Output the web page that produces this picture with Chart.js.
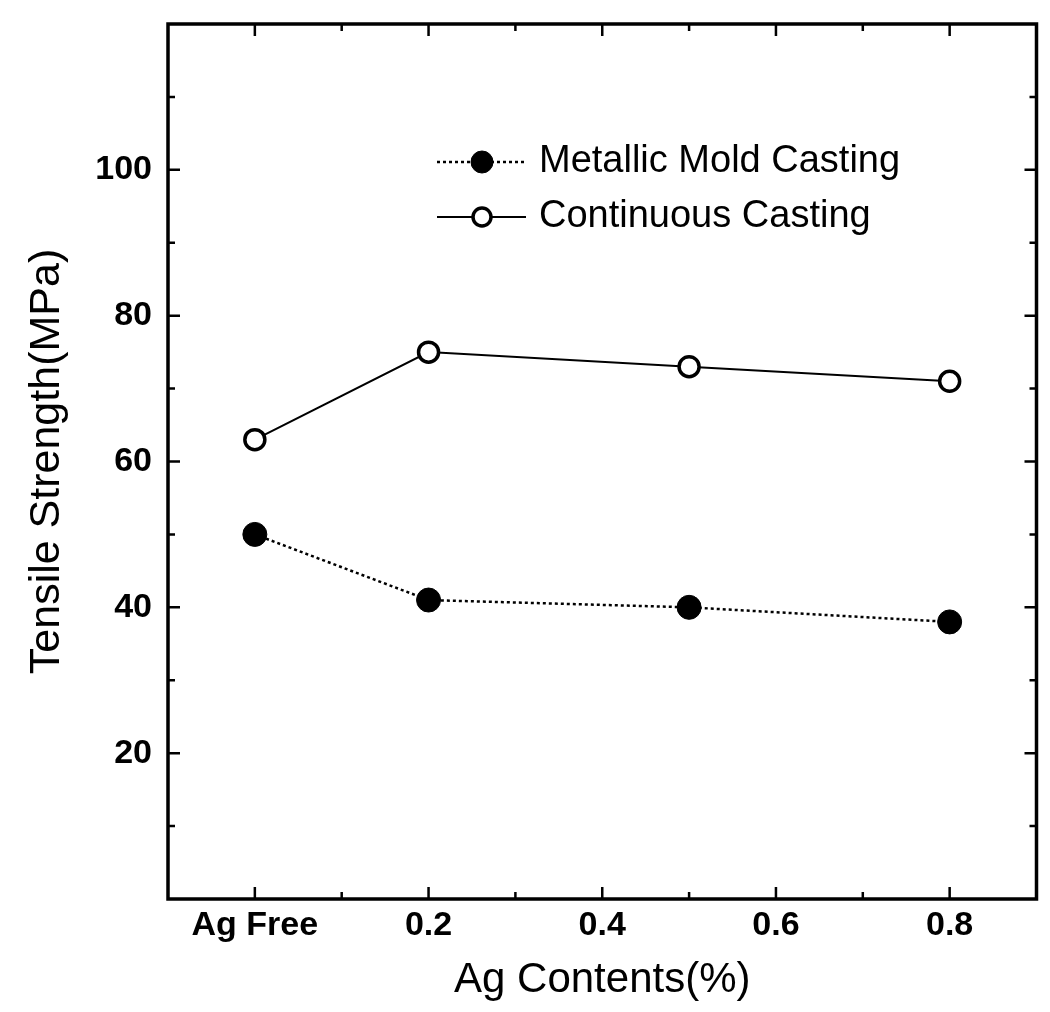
<!DOCTYPE html>
<html>
<head>
<meta charset="utf-8">
<script src="https://cdn.jsdelivr.net/npm/chart.js@4.4.1/dist/chart.umd.min.js"></script>
<style>
  html, body { margin: 0; padding: 0; background: #fff; }
  canvas { display: block; }
</style>
</head>
<body>
<canvas id="myChart" width="1050" height="1012"></canvas>
<script>
const agContents = [0, 0.2, 0.5, 0.8];
const metallicMold = [50, 41, 40, 38];
const continuous = [63, 75, 73, 71];

const xTicks = [0, 0.2, 0.4, 0.6, 0.8];
const xTickLabels = ['Ag Free', '0.2', '0.4', '0.6', '0.8'];
const xMinorTicks = [0.1, 0.3, 0.5, 0.7];
const yTicks = [20, 40, 60, 80, 100];
const yMinorTicks = [10, 30, 50, 70, 90, 110];

const FONT = "'Liberation Sans', Arial, sans-serif";

const toPoints = ys => agContents.map((x, i) => ({ x: x, y: ys[i] }));

// box around the plot with inward ticks on all four sides
const frame = {
  id: 'frame',
  afterDatasetsDraw(chart) {
    const { ctx, chartArea: a, scales: { x, y } } = chart;
    ctx.save();
    ctx.strokeStyle = '#000';
    ctx.lineWidth = 2.5;
    const xTick = (v, len) => {
      const px = x.getPixelForValue(v);
      ctx.beginPath();
      ctx.moveTo(px, a.bottom); ctx.lineTo(px, a.bottom - len);
      ctx.moveTo(px, a.top); ctx.lineTo(px, a.top + len);
      ctx.stroke();
    };
    const yTick = (v, len) => {
      const py = y.getPixelForValue(v);
      ctx.beginPath();
      ctx.moveTo(a.left, py); ctx.lineTo(a.left + len, py);
      ctx.moveTo(a.right, py); ctx.lineTo(a.right - len, py);
      ctx.stroke();
    };
    xTicks.forEach(v => xTick(v, 12));
    xMinorTicks.forEach(v => xTick(v, 7));
    yTicks.forEach(v => yTick(v, 12));
    yMinorTicks.forEach(v => yTick(v, 7));
    ctx.lineWidth = 3.5;
    ctx.strokeRect(a.left, a.top, a.right - a.left, a.bottom - a.top);
    ctx.restore();
  }
};

// legend: line sample with the marker in the middle, then the label
const lineLegend = {
  id: 'lineLegend',
  afterDraw(chart) {
    const { ctx } = chart;
    chart.data.datasets.forEach((ds, i) => {
      const yy = 162 + i * 55;
      ctx.save();
      ctx.strokeStyle = ds.borderColor;
      ctx.lineWidth = ds.borderWidth;
      ctx.setLineDash(ds.borderDash || []);
      ctx.beginPath();
      ctx.moveTo(437, yy);
      ctx.lineTo(526, yy);
      ctx.stroke();
      ctx.setLineDash([]);
      ctx.beginPath();
      ctx.arc(482, yy, ds.legendRadius, 0, Math.PI * 2);
      ctx.fillStyle = ds.pointBackgroundColor;
      ctx.fill();
      ctx.lineWidth = ds.pointBorderWidth;
      ctx.strokeStyle = ds.pointBorderColor;
      ctx.stroke();
      ctx.fillStyle = '#000';
      ctx.font = '38px ' + FONT;
      ctx.textBaseline = 'middle';
      ctx.fillText(ds.label, 539, yy);
      ctx.restore();
    });
  }
};

const ctx = document.getElementById('myChart');

const chart = new Chart(ctx, {
  type: 'scatter',
  data: {
    datasets: [{
      label: 'Metallic Mold Casting',
      data: toPoints(metallicMold),
      showLine: true,
      borderColor: '#000',
      borderWidth: 2.5,
      borderDash: [3, 3],
      pointRadius: 12,
      pointBackgroundColor: '#000',
      pointBorderColor: '#000',
      pointBorderWidth: 1,
      legendRadius: 11
    }, {
      label: 'Continuous Casting',
      data: toPoints(continuous),
      showLine: true,
      borderColor: '#000',
      borderWidth: 2,
      pointRadius: 10,
      pointBackgroundColor: '#fff',
      pointBorderColor: '#000',
      pointBorderWidth: 3.5,
      legendRadius: 9
    }]
  },
  options: {
    responsive: false,
    animation: false,
    devicePixelRatio: 1,
    layout: { padding: { top: 24, right: 9, left: 0, bottom: 0 } },
    plugins: {
      legend: { display: false },
      tooltip: { enabled: false }
    },
    scales: {
      x: {
        type: 'linear',
        min: -0.1,
        max: 0.9,
        afterBuildTicks: scale => { scale.ticks = xTicks.map(v => ({ value: v })); },
        afterFit: scale => {
          scale.height = 113;
          scale.paddingLeft = 0;
          scale.paddingRight = 0;
        },
        grid: { display: false, drawTicks: false },
        border: { display: false },
        ticks: {
          color: '#000',
          padding: 6,
          maxRotation: 0,
          font: { family: FONT, size: 34, weight: 'bold' },
          callback: (value, index) => xTickLabels[index]
        },
        title: {
          display: true,
          text: 'Ag Contents(%)',
          color: '#000',
          font: { family: FONT, size: 42 },
          padding: { top: 0, bottom: 6 }
        }
      },
      y: {
        min: 0,
        max: 120,
        afterBuildTicks: scale => { scale.ticks = yTicks.map(v => ({ value: v })); },
        afterFit: scale => {
          scale.width = 168;
          scale.paddingTop = 0;
          scale.paddingBottom = 0;
        },
        grid: { display: false, drawTicks: false },
        border: { display: false },
        ticks: {
          color: '#000',
          padding: 16,
          font: { family: FONT, size: 34, weight: 'bold' }
        },
        title: {
          display: true,
          text: 'Tensile Strength(MPa)',
          color: '#000',
          font: { family: FONT, size: 43 },
          padding: { top: 21, bottom: 0 }
        }
      }
    }
  },
  plugins: [frame, lineLegend]
});
</script>
</body>
</html>
